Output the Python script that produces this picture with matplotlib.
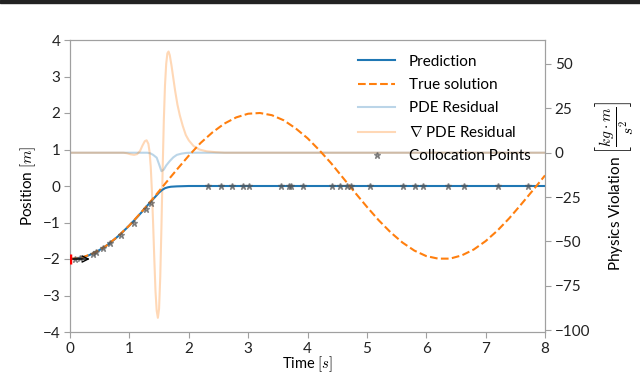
import numpy as np
import matplotlib
matplotlib.use("Agg")
import matplotlib.pyplot as plt
from matplotlib.patches import Rectangle

plt.rcParams["font.family"] = ["Lato", "DejaVu Sans"]
plt.rcParams["mathtext.fontset"] = "cm"
plt.rcParams["font.size"] = 11

# ---- data ----
t_true = [0.0, 0.2, 0.4, 0.6, 0.8, 1.0, 1.2, 1.4, 1.6, 1.8, 2.0, 2.2, 2.4, 2.6,
          2.8, 3.0, 3.2, 3.4, 3.6, 3.8, 4.0, 4.2, 4.4, 4.6, 4.8, 5.0, 5.2, 5.4,
          5.6, 5.8, 6.0, 6.2, 6.4, 6.6, 6.8, 7.0, 7.2, 7.4, 7.6, 7.8, 8.0]
x_true = [-2.00, -1.96, -1.84, -1.65, -1.39, -1.08, -0.72, -0.34, 0.06, 0.45,
          0.83, 1.18, 1.47, 1.71, 1.88, 1.98, 2.00, 1.94, 1.80, 1.58, 1.31,
          0.98, 0.62, 0.22, -0.18, -0.57, -0.94, -1.27, -1.55, -1.77, -1.92,
          -1.99, -1.99, -1.90, -1.74, -1.51, -1.22, -0.88, -0.50, -0.11, 0.29]

t_pred = [0.0, 0.1, 0.2, 0.3, 0.4, 0.5, 0.6, 0.7, 0.8, 0.9, 1.0, 1.1, 1.2,
          1.3, 1.4, 1.45, 1.5, 1.55, 1.6, 1.65, 1.7, 1.8, 1.9, 2.0, 8.0]
x_pred = [-2.00, -1.99, -1.96, -1.91, -1.84, -1.75, -1.65, -1.53, -1.39, -1.24,
          -1.08, -0.91, -0.73, -0.54, -0.36, -0.27, -0.18, -0.11, -0.06, -0.035,
          -0.02, -0.01, -0.005, 0.0, 0.0]

t_res = [0.0, 1.3, 1.35, 1.4, 1.46, 1.5, 1.54, 1.58, 1.62, 1.68, 1.74, 1.8,
         1.88, 1.96, 2.05, 8.0]
r_pde = [0.0, 0.0, -0.3, -1.2, -2.8, -6.5, -10.4, -9.5, -7.2, -4.7, -2.6, -1.2,
         -0.5, -0.1, 0.0, 0.0]

t_grad = [0.0, 0.9, 0.96, 1.02, 1.08, 1.13, 1.18, 1.22, 1.26, 1.29, 1.32, 1.34,
          1.36, 1.38, 1.40, 1.42, 1.44, 1.46, 1.48, 1.50, 1.52, 1.54, 1.56,
          1.58, 1.60, 1.62, 1.64, 1.66, 1.68, 1.71, 1.74, 1.77, 1.81, 1.85,
          1.90, 1.95, 2.00, 2.08, 2.18, 2.3, 2.45, 2.6, 8.0]
r_grad = [0.0, 0.0, -0.3, -0.9, -1.2, -0.8, 1.0, 4.0, 6.5, 7.0, 5.0, 0.5,
          -8.0, -22.0, -40.0, -60.0, -78.0, -89.0, -93.0, -88.0, -70.0, -42.0,
          -10.0, 18.0, 38.0, 50.0, 56.0, 57.0, 55.0, 49.0, 42.0, 35.0, 27.0,
          21.0, 15.0, 10.0, 7.0, 3.8, 1.8, 0.8, 0.3, 0.0, 0.0]

t_coll = [0.08, 0.16, 0.39, 0.44, 0.56, 0.67, 0.86, 1.07, 1.28, 1.36,
          2.33, 2.54, 2.73, 2.92, 3.01, 3.55, 3.68, 3.72, 3.93, 4.41, 4.54,
          4.66, 4.74, 5.06, 5.60, 5.81, 5.94, 6.36, 6.64, 7.21, 7.71]
x_coll = [-1.99, -1.97, -1.85, -1.81, -1.71, -1.57, -1.35, -1.00, -0.63, -0.46,
          0.0, 0.0, 0.0, 0.0, 0.0, 0.0, 0.0, 0.0, 0.0, 0.0, 0.0,
          0.0, 0.0, 0.0, 0.0, 0.0, 0.0, 0.0, 0.0, 0.0, 0.0]

x0, v0_end = -2.0, 0.38

fig = plt.figure(figsize=(6.4, 3.73), dpi=100)
ax = fig.add_axes([70 / 640, 1 - 332 / 373, 475 / 640, 292 / 373])
ax2 = ax.twinx()

edge = "#a0a0a0"
for a in (ax, ax2):
    for s in a.spines.values():
        s.set_color(edge)
    a.tick_params(color=edge, labelcolor="#222222", length=4, pad=3)

ax.set_zorder(ax2.get_zorder() + 1)
ax.patch.set_visible(False)

l_pde, = ax2.plot(t_res, r_pde, color="#1f77b4", alpha=0.3, lw=1.5,
                  label="PDE Residual")
l_grad, = ax2.plot(t_grad, r_grad, color="#ff7f0e", alpha=0.3, lw=1.5,
                   label=r"$\nabla$ PDE Residual")

l_pred, = ax.plot(t_pred, x_pred, color="#1f77b4", lw=1.5, label="Prediction")
l_true, = ax.plot(t_true, x_true, color="#ff7f0e", lw=1.5, ls="--",
                  label="True solution")
l_coll, = ax.plot(t_coll, x_coll, ls="none", marker="*", ms=5,
                  color="#555555", alpha=0.6, label="Collocation Points")
ax.plot([0], [x0], marker="|", ms=7, mew=2.5, color="red", zorder=5)
ax.annotate("", xy=(v0_end, x0), xytext=(0, x0),
            arrowprops=dict(arrowstyle="->", color="black", lw=1))

ax.set_xlim(0, 8)
ax.set_ylim(-4, 4)
ax2.set_ylim(-101, 63.5)
ax2.set_yticks([50, 25, 0, -25, -50, -75, -100])

ax.set_xlabel(r"Time $[s]$", labelpad=-1, fontsize=10.5)
ax.set_ylabel(r"Position $[m]$", labelpad=3)
ax2.set_ylabel(r"Physics Violation $\left[\dfrac{kg\cdot m}{s^2}\right]$",
               labelpad=3)

ax.legend(handles=[l_pred, l_true, l_pde, l_grad, l_coll], loc="upper right",
          frameon=False, fontsize=11, labelspacing=0.62, handlelength=2.4,
          handletextpad=0.9, borderaxespad=0.55)

fig.patches.append(Rectangle((0, 1 - 3 / 373), 1, 3 / 373,
                             transform=fig.transFigure, color="#222222"))

fig.savefig("out.png", dpi=100)
